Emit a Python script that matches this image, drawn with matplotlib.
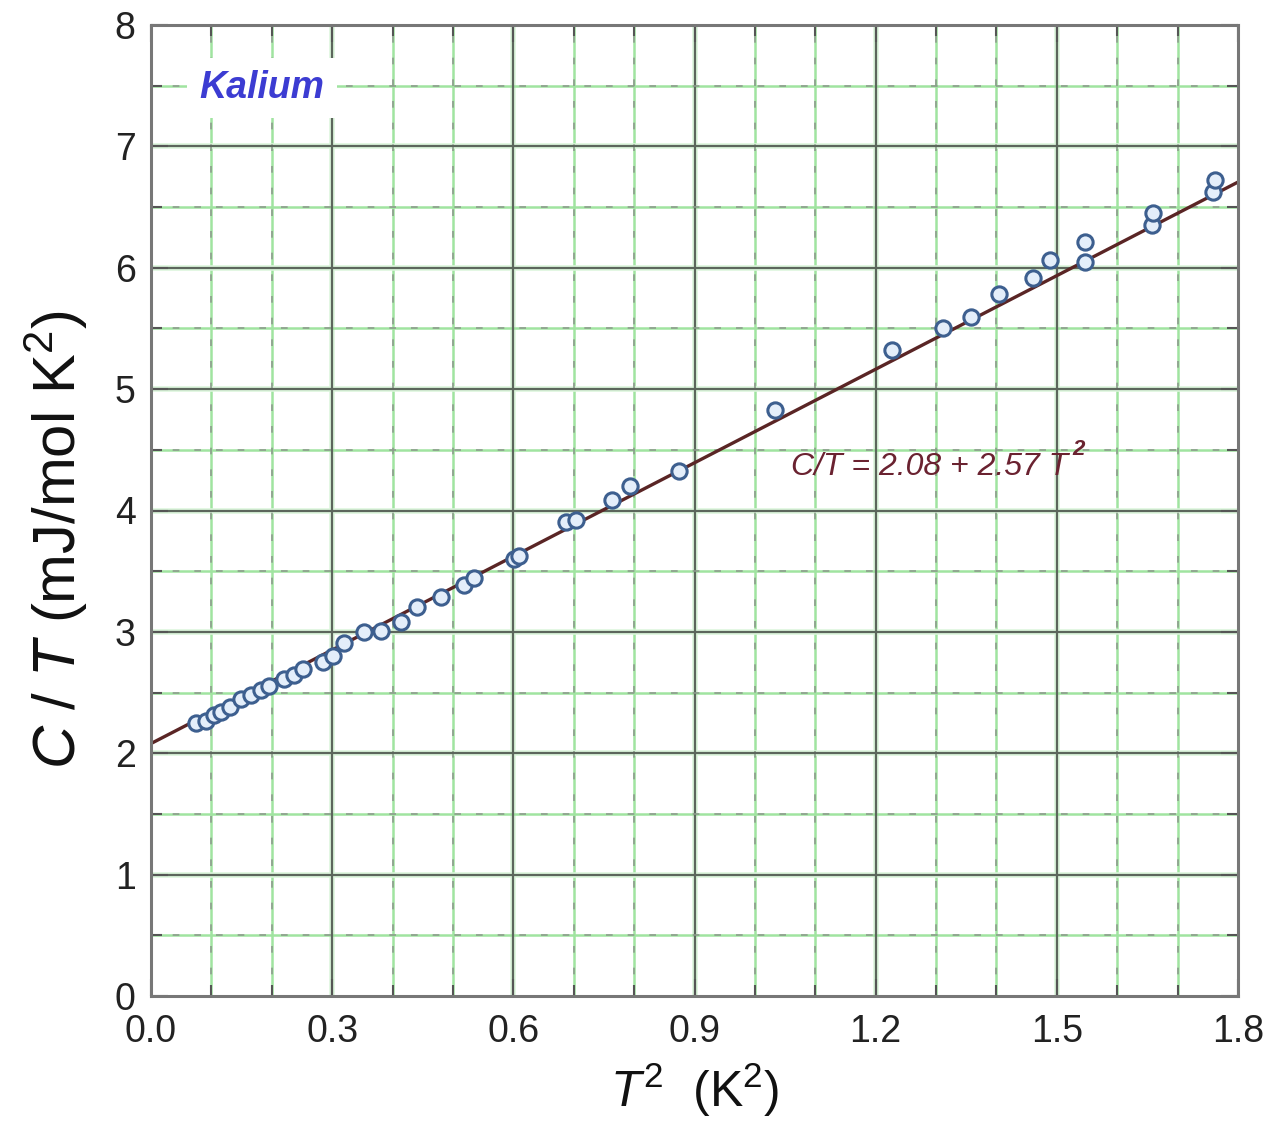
import numpy as np
import matplotlib
matplotlib.use("Agg")
import matplotlib.pyplot as plt
from matplotlib.ticker import MultipleLocator, FormatStrFormatter

# measured specific heat of potassium, C/T against T^2
t2 = [0.075, 0.091, 0.105, 0.116, 0.130, 0.149, 0.165, 0.182, 0.196, 0.221,
      0.237, 0.251, 0.284, 0.301, 0.320, 0.353, 0.381, 0.414, 0.441, 0.480,
      0.518, 0.535, 0.601, 0.609, 0.687, 0.703, 0.764, 0.794, 0.874, 1.034,
      1.227, 1.311, 1.358, 1.404, 1.461, 1.489, 1.547, 1.547, 1.657, 1.660,
      1.759, 1.762]
c_over_t = [2.246, 2.268, 2.317, 2.336, 2.383, 2.447, 2.482, 2.521, 2.557, 2.612,
            2.647, 2.694, 2.749, 2.804, 2.906, 2.996, 3.010, 3.079, 3.202, 3.285,
            3.390, 3.445, 3.602, 3.629, 3.903, 3.923, 4.088, 4.198, 4.324, 4.825,
            5.320, 5.507, 5.598, 5.787, 5.919, 6.062, 6.048, 6.213, 6.351, 6.452,
            6.625, 6.722]

gamma = 2.08
beta = 2.57

plt.rcParams["font.family"] = ["Liberation Sans", "DejaVu Sans"]
plt.rcParams["mathtext.fontset"] = "custom"
plt.rcParams["mathtext.rm"] = "Liberation Sans"
plt.rcParams["mathtext.it"] = "Liberation Sans:italic"
plt.rcParams["mathtext.bf"] = "Liberation Sans:bold"

fig = plt.figure(figsize=(12.79, 11.41), dpi=100)
ax = fig.add_axes([151 / 1279, 145 / 1141, 1087 / 1279, 971 / 1141])

ax.set_xlim(0, 1.8)
ax.set_ylim(0, 8)


def grid_line(draw, pos, major):
    if major:
        draw(pos, color="#dcf5dc", lw=4, zorder=0)
        draw(pos, color="#5c665c", lw=1.6, zorder=1)
    else:
        draw(pos, color="#a0e4a0", lw=1.8, zorder=0)
        draw(pos, color="#8c9c8c", lw=1.2, ls=(0, (4, 9)), zorder=1)


for x in np.arange(0.1, 1.8, 0.1):
    grid_line(ax.axvline, x, abs(x / 0.3 - round(x / 0.3)) < 1e-6)
for y in np.arange(0.5, 8, 0.5):
    grid_line(ax.axhline, y, abs(y - round(y)) < 1e-6)

xfit = np.array([0.0, 1.8])
ax.plot(xfit, gamma + beta * xfit, color="#5a2525", lw=2.4, zorder=2)

ax.plot(t2, c_over_t, ls="none", marker="o", ms=11, mew=2.2,
        mec="#3d5f8f", mfc="#e4eefa", zorder=3)

ax.xaxis.set_major_locator(MultipleLocator(0.3))
ax.xaxis.set_minor_locator(MultipleLocator(0.1))
ax.yaxis.set_major_locator(MultipleLocator(1))
ax.yaxis.set_minor_locator(MultipleLocator(0.5))
ax.xaxis.set_major_formatter(FormatStrFormatter("%.1f"))
ax.tick_params(which="both", direction="in", top=True, right=True,
               color="#555555", width=1.5)
ax.tick_params(which="major", length=12, labelsize=27, labelcolor="#222222")
ax.tick_params(axis="x", which="major", pad=13)
ax.tick_params(axis="y", which="major", pad=11)
ax.tick_params(which="minor", length=8)

for s in ax.spines.values():
    s.set_color("#777777")
    s.set_linewidth(2.2)

ax.set_xlabel(r"$T^2$  (K$^2$)", fontsize=36, labelpad=8, color="#111111")
ax.set_ylabel(r"$C$ / $T$ (mJ/mol K$^2$)", fontsize=43, color="#111111")
ax.yaxis.set_label_coords(-0.056, 0.47)

ax.text(0.08, 7.48, "Kalium", fontsize=27, fontweight="bold", style="italic",
        color="#3c3cd2", va="center", ha="left", zorder=4,
        bbox=dict(facecolor="white", edgecolor="none", pad=9))
eq = ax.text(1.06, 4.36, "C/T = 2.08 + 2.57 T", fontsize=23, style="italic",
             color="#6a2230", va="center", ha="left", zorder=4)
ax.annotate("2", xy=(1.0, 0.72), xycoords=eq, xytext=(3, 0),
            textcoords="offset points", fontsize=16, fontweight="bold",
            style="italic", color="#6a2230", va="bottom", ha="left", zorder=4)

fig.savefig("out.png", dpi=100)
